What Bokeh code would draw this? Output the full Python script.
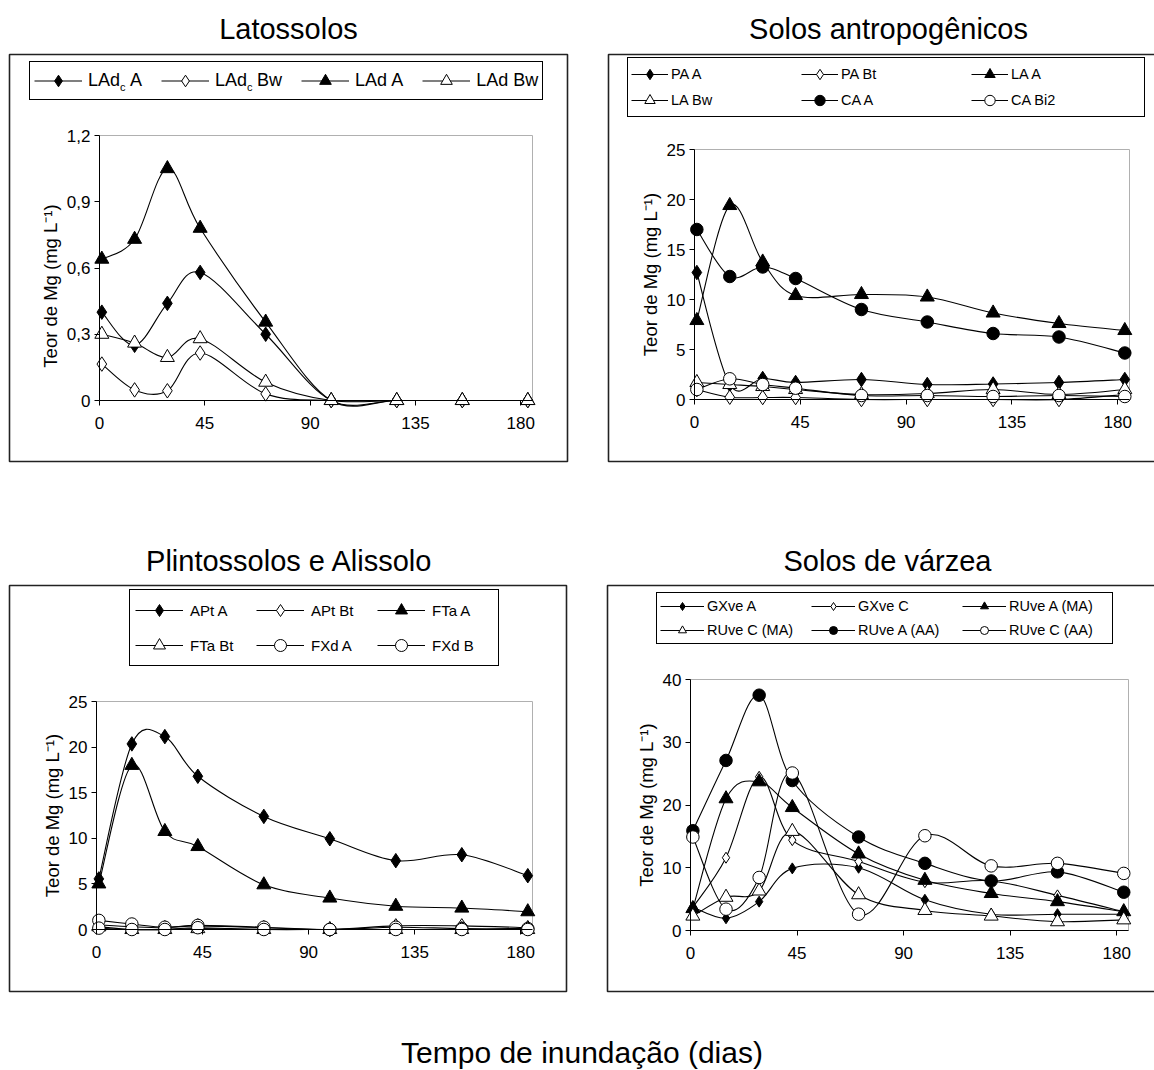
import numpy as np
from bokeh.plotting import figure
from bokeh.models import (Range1d, FixedTicker, CustomJSTickFormatter, Legend, LegendItem,
                          Label, BoxAnnotation, ColumnDataSource, Div, LinearAxis)
from bokeh.layouts import column, row
from bokeh.embed import file_html
from bokeh.resources import INLINE

FONT = "Liberation Sans"

# ---------------- data ----------------
days = [1, 15, 29, 43, 71, 99, 127, 155, 183]
x_ticks = [0, 45, 90, 135, 180]
x_max = 185

# Latossolos
lat_ladc_a = [0.40, 0.25, 0.44, 0.58, 0.30, 0.0, 0.0, 0.0, 0.0]
lat_ladc_bw = [0.165, 0.048, 0.044, 0.215, 0.03, 0.0, 0.0, 0.0, 0.0]
lat_lad_a = [0.64, 0.73, 1.05, 0.78, 0.355, 0.0, 0.0, 0.0, 0.0]
lat_lad_bw = [0.30, 0.26, 0.195, 0.28, 0.083, 0.0, 0.0, 0.0, 0.0]
lat_labels = ["LAd\u00a0\u00a0A", "LAd\u00a0\u00a0Bw", "LAd A", "LAd Bw"]
lat_yticks = [0, 0.3, 0.6, 0.9, 1.2]

# Solos antropogenicos
ant_pa_a = [12.7, 1.5, 2.1, 1.7, 2.0, 1.5, 1.55, 1.7, 2.0]
ant_pa_bt = [1.0, 0.23, 0.2, 0.2, 0.0, 0.0, 0.0, 0.0, 0.5]
ant_la_a = [7.9, 19.4, 13.75, 10.4, 10.5, 10.25, 8.65, 7.6, 6.9]
ant_la_bw = [1.7, 1.5, 1.3, 1.0, 0.5, 0.6, 1.0, 0.5, 1.0]
ant_ca_a = [17.0, 12.3, 13.25, 12.1, 9.0, 7.75, 6.6, 6.25, 4.65]
ant_ca_bi2 = [1.0, 2.07, 1.5, 1.13, 0.4, 0.4, 0.3, 0.4, 0.3]
ant_labels = ["PA A", "PA Bt", "LA A", "LA Bw", "CA A", "CA Bi2"]

# Plintossolos e Alissolo
pli_apt_a = [5.55, 20.35, 21.15, 16.8, 12.4, 9.95, 7.55, 8.2, 5.9]
pli_apt_bt = [0.5, 0.3, 0.2, 0.4, 0.2, 0.0, 0.4, 0.4, 0.2]
pli_fta_a = [5.0, 18.0, 10.75, 9.1, 4.9, 3.45, 2.55, 2.35, 1.95]
pli_fta_bt = [0.3, 0.0, 0.0, 0.1, 0.0, 0.0, 0.0, 0.0, 0.0]
pli_fxd_a = [1.0, 0.6, 0.25, 0.45, 0.25, 0.0, 0.25, 0.1, 0.1]
pli_fxd_b = [0.15, 0.0, 0.0, 0.2, 0.0, 0.0, 0.0, 0.0, 0.0]
pli_labels = ["APt A", "APt Bt", "FTa A", "FTa Bt", "FXd A", "FXd B"]

# Solos de varzea
var_gxve_a = [3.7, 1.95, 4.6, 9.9, 10.0, 4.9, 2.6, 2.6, 2.6]
var_gxve_c = [3.7, 11.6, 24.5, 14.4, 11.0, 7.7, 7.9, 5.6, 3.0]
var_ruve_a_ma = [3.5, 21.0, 23.7, 19.6, 12.2, 8.0, 5.9, 4.6, 3.0]
var_ruve_c_ma = [2.3, 5.3, 6.3, 15.8, 5.7, 3.2, 2.3, 1.4, 1.7]
var_ruve_a_aa = [15.9, 27.1, 37.5, 23.9, 14.9, 10.7, 7.9, 9.35, 6.1]
var_ruve_c_aa = [14.9, 3.4, 8.45, 25.1, 2.6, 15.1, 10.3, 10.7, 9.1]
var_labels = ["GXve A", "GXve C", "RUve A (MA)", "RUve C (MA)", "RUve A (AA)", "RUve C (AA)"]

titles = ["Latossolos", "Solos antropogênicos", "Plintossolos e Alissolo", "Solos de várzea"]
y_label = "Teor de Mg (mg L\u207b\u00b9)"
x_caption = "Tempo de inundação (dias)"

# ---------------- styles ----------------
FD = dict(marker="diamond", size=14.5, fill_color="black")
OD = dict(marker="diamond", size=14.5, fill_color="white")
FDs = dict(marker="diamond", size=11, fill_color="black")
ODs = dict(marker="diamond", size=11, fill_color="white")
FT = dict(marker="triangle", size=14, fill_color="black")
OT = dict(marker="triangle", size=14, fill_color="white")
FC = dict(marker="circle", size=12.5, fill_color="black")
OC = dict(marker="circle", size=12.5, fill_color="white")

AW = {'L': 0.556, 'A': 0.667, 'd': 0.556, ' ': 0.278, '\u00a0': 0.278, 'B': 0.667, 'w': 0.722}


def tw(s, fs):
    return sum(AW.get(c, 0.556) for c in s) * fs


def bezier_data(xs, ys):
    n = len(xs)
    out = {k: [] for k in ["x0", "y0", "x1", "y1", "cx0", "cy0", "cx1", "cy1"]}
    for i in range(n - 1):
        xp, yp = (xs[i - 1], ys[i - 1]) if i > 0 else (xs[i], ys[i])
        xn, yn = (xs[i + 2], ys[i + 2]) if i + 2 < n else (xs[i + 1], ys[i + 1])
        out["x0"].append(xs[i]); out["y0"].append(ys[i])
        out["x1"].append(xs[i + 1]); out["y1"].append(ys[i + 1])
        out["cx0"].append(xs[i] + (xs[i + 1] - xp) / 6.0)
        out["cy0"].append(ys[i] + (ys[i + 1] - yp) / 6.0)
        out["cx1"].append(xs[i + 1] - (xn - xs[i]) / 6.0)
        out["cy1"].append(ys[i + 1] - (yn - ys[i]) / 6.0)
    return out


def make_panel(g, series, ymax, yticks, yfmt, leg, title, ylab):
    x0, y0, w, h = g["canvas"]
    l, r, t, b = g["data"]
    fl, fr, ft, fb = x0, x0 + w, y0, y0 + h
    ppx = (r - l) / x_max
    ppy = (b - t) / ymax
    p = figure(width=w, height=h,
               x_range=Range1d(-(l - fl) / ppx, x_max + (fr - r) / ppx),
               y_range=Range1d(-(fb - b) / ppy, ymax + (t - ft) / ppy),
               x_axis_location=None, y_axis_location=None,
               min_border=0, min_border_left=0, min_border_right=0,
               min_border_top=0, min_border_bottom=0,
               toolbar_location=None, output_backend="svg",
               background_fill_color="white", border_fill_color="white",
               outline_line_color=None)
    p.xgrid.visible = False
    p.ygrid.visible = False

    sx = lambda px: px - fl
    sy = lambda py: fb - py

    # plot area (grey border)
    p.add_layout(BoxAnnotation(left=0, right=x_max, bottom=0, top=ymax,
                               fill_alpha=0, line_color="#b0b0b0", line_alpha=1,
                               line_width=1, level="underlay"))

    xax = LinearAxis(fixed_location=0, bounds=(0, x_max), ticker=FixedTicker(ticks=x_ticks),
                     major_label_standoff=11)
    if yfmt:
        yax = LinearAxis(fixed_location=0, bounds=(0, ymax), ticker=FixedTicker(ticks=yticks),
                         major_label_standoff=4,
                         formatter=CustomJSTickFormatter(
                             code="return tick == 0 ? '0' : tick.toFixed(1).replace('.', ',')"))
    else:
        yax = LinearAxis(fixed_location=0, bounds=(0, ymax), ticker=FixedTicker(ticks=yticks),
                         major_label_standoff=4)
    for ax in (xax, yax):
        ax.axis_line_color = "black"
        ax.axis_line_width = 1
        ax.major_tick_line_color = "black"
        ax.major_tick_out = 5
        ax.major_tick_in = 0
        ax.minor_tick_line_color = None
        ax.major_label_text_font = FONT
        ax.major_label_text_font_size = "17px"
        ax.major_label_text_color = "black"
    yax.axis_label = ylab
    yax.axis_label_text_font = FONT
    yax.axis_label_text_font_size = "18.5px"
    yax.axis_label_text_font_style = "normal"
    yax.axis_label_text_color = "black"
    yax.axis_label_standoff = 3
    p.add_layout(xax, "below")
    p.add_layout(yax, "left")

    items = []
    for name, vals, st in series:
        src = ColumnDataSource(bezier_data(days, vals))
        bz = p.bezier(x0="x0", y0="y0", x1="x1", y1="y1", cx0="cx0", cy0="cy0",
                      cx1="cx1", cy1="cy1", source=src, line_color="black", line_width=1.1)
        sc = p.scatter(x=days, y=vals, line_color="black", line_width=1, **st)
        items.append(LegendItem(label=name, renderers=[bz, sc]))

    bl, bb = leg["box_lb"]
    lg = Legend(items=items, location=(sx(bl), sy(bb)), orientation="horizontal",
                ncols=leg["ncols"], glyph_width=leg["gw"], glyph_height=leg["gh"],
                label_height=leg["gh"], label_width=leg["lw"],
                label_standoff=leg["standoff"], spacing=leg["spacing"],
                padding=leg["padding"], margin=0,
                label_text_font=FONT, label_text_font_size=leg["fs"],
                label_text_color="black",
                border_line_color="black", border_line_width=1, border_line_alpha=1,
                background_fill_color="white", background_fill_alpha=leg.get("bg", 1))
    p.add_layout(lg)

    # outer box
    bx = g["box"]
    p.add_layout(BoxAnnotation(left=sx(bx[0]), right=sx(bx[1]), top=sy(bx[2]), bottom=sy(bx[3]),
                               left_units="screen", right_units="screen",
                               top_units="screen", bottom_units="screen",
                               fill_alpha=0, line_color="#222222", line_alpha=1, line_width=1.6,
                               level="overlay"))
    # title
    tx, ty = g["title"]
    p.add_layout(Label(x=sx(tx), y=sy(ty), x_units="screen", y_units="screen",
                       text=title, text_font=FONT, text_font_size="29px",
                       text_align="center", text_baseline="middle",
                       text_color="black"))
    return p, sx, sy


# ---------------- panels ----------------
g1 = dict(canvas=(0, 0, 588, 540), data=(99, 532, 135, 400),
          box=(9, 567, 54, 461), title=(288, 28))
g2 = dict(canvas=(588, 0, 566, 540), data=(694, 1129, 149, 399),
          box=(608, 1170, 54, 461), title=(888, 28))
g3 = dict(canvas=(0, 540, 588, 470), data=(96, 532, 701, 929),
          box=(9, 566, 585, 991), title=(289, 560))
g4 = dict(canvas=(588, 540, 566, 470), data=(690, 1128, 679, 930),
          box=(607, 1170, 585, 991), title=(887, 560))

leg1 = dict(box_lb=(29, 100), ncols=4, gw=48, gh=29, lw=20, standoff=6, spacing=19,
            padding=4, fs="18px", bg=0)
leg2 = dict(box_lb=(627, 117), ncols=3, gw=37, gh=26, lw=130, standoff=3, spacing=0,
            padding=3, fs="14.5px")
leg3 = dict(box_lb=(129, 666), ncols=3, gw=48, gh=30, lw=61, standoff=7, spacing=5,
            padding=5, fs="15px")
leg4 = dict(box_lb=(656, 644), ncols=3, gw=44, gh=20, lw=100, standoff=3, spacing=4,
            padding=3, fs="14.5px")

ylab1 = y_label + "\u00a0" * 7

p1, sx1, sy1 = make_panel(g1, [(lat_labels[0], lat_ladc_a, FD), (lat_labels[1], lat_ladc_bw, OD),
                               (lat_labels[2], lat_lad_a, FT), (lat_labels[3], lat_lad_bw, OT)],
                          1.2, lat_yticks, True, leg1, titles[0], ylab1)
p2, _, _ = make_panel(g2, [(ant_labels[0], ant_pa_a, FD), (ant_labels[1], ant_pa_bt, OD),
                           (ant_labels[2], ant_la_a, FT), (ant_labels[3], ant_la_bw, OT),
                           (ant_labels[4], ant_ca_a, FC), (ant_labels[5], ant_ca_bi2, OC)],
                      25, [0, 5, 10, 15, 20, 25], False, leg2, titles[1], y_label)
p3, _, _ = make_panel(g3, [(pli_labels[0], pli_apt_a, FD), (pli_labels[1], pli_apt_bt, OD),
                           (pli_labels[2], pli_fta_a, FT), (pli_labels[3], pli_fta_bt, OT),
                           (pli_labels[4], pli_fxd_a, OC), (pli_labels[5], pli_fxd_b, OC)],
                      25, [0, 5, 10, 15, 20, 25], False, leg3, titles[2], y_label)
p4, _, _ = make_panel(g4, [(var_labels[0], var_gxve_a, FDs), (var_labels[1], var_gxve_c, ODs),
                           (var_labels[2], var_ruve_a_ma, FT), (var_labels[3], var_ruve_c_ma, OT),
                           (var_labels[4], var_ruve_a_aa, FC), (var_labels[5], var_ruve_c_aa, OC)],
                      40, [0, 10, 20, 30, 40], False, leg4, titles[3], y_label)

# subscript "c" in the Latossolos legend
fs1 = 18
box_top = leg1["box_lb"][1] - (2 * leg1["padding"] + leg1["gh"])
row_c = box_top + leg1["padding"] + leg1["gh"] / 2
xx = leg1["box_lb"][0] + leg1["padding"]
for i, lab in enumerate(lat_labels):
    text_x = xx + leg1["gw"] + leg1["standoff"]
    if i < 2:
        p1.add_layout(Label(x=sx1(text_x + tw("LAd", fs1) + 0.5), y=sy1(row_c + 5),
                            x_units="screen", y_units="screen", text="c",
                            text_font=FONT, text_font_size="11px", text_color="black",
                            text_align="left", text_baseline="middle", level="overlay"))
    xx = text_x + max(leg1["lw"], tw(lab, fs1)) + leg1["spacing"]

caption = Div(text=('<div style="display:block; width:1134px; font-family:\'Liberation Sans\',Arial,sans-serif; '
                    'font-size:30px; line-height:30px; text-align:center; padding-left:20px; '
                    'padding-top:23px; white-space:nowrap; color:black;">' + x_caption + '</div>'),
              width=1154, height=60, styles={"overflow": "visible"})

layout = column(row(p1, p2), row(p3, p4), caption)
open("out.html", "w").write(file_html(layout, INLINE))
